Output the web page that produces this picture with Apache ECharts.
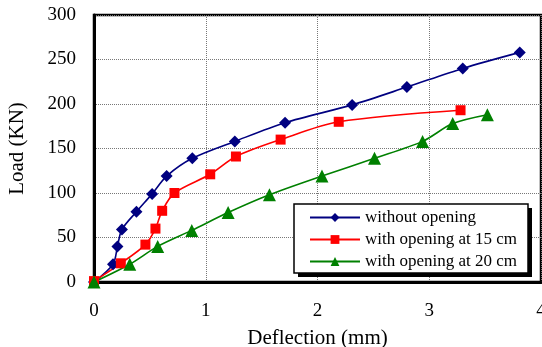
<!DOCTYPE html>
<html>
<head>
<meta charset="utf-8">
<script src="https://cdn.jsdelivr.net/npm/echarts@6/dist/echarts.min.js"></script>
<style>
  html, body { margin: 0; padding: 0; background: #fff; }
  #container { width: 542px; height: 347px; }
</style>
</head>
<body>
<div id="container"></div>
<script>
// values: [deflection mm, load kN]
let noOpening = [[0, 0], [0.17, 20], [0.21, 40], [0.25, 59], [0.38, 79], [0.52, 99], [0.65, 119],
    [0.88, 139], [1.26, 158], [1.71, 179], [2.31, 199], [2.80, 219], [3.30, 240], [3.81, 258]];
let opening15 = [[0, 1], [0.24, 21], [0.46, 42], [0.55, 60], [0.61, 80], [0.72, 100], [1.04, 121],
    [1.27, 141], [1.67, 160], [2.19, 180], [3.28, 193]];
let opening20 = [[0, 0], [0.32, 20], [0.57, 40], [0.875, 58], [1.20, 78], [1.57, 98], [2.04, 119],
    [2.51, 139], [2.94, 158], [3.21, 178], [3.52, 188]];
let seriesNames = ['without opening', 'with opening at 15 cm', 'with opening at 20 cm'];

let serif = '"Liberation Serif", "DejaVu Serif", serif';
let myChart = echarts.init(document.getElementById('container'));

function lineSeries(name, data, color, symbol, size) {
    return {
        name: name,
        type: 'line',
        data: data,
        smooth: 0.3,
        symbol: symbol,
        symbolSize: size,
        showAllSymbol: true,
        lineStyle: { color: color, width: 1.6 },
        itemStyle: { color: color },
        z: 3
    };
}

let option = {
    animation: false,
    grid: {
        left: 94, right: 1, top: 15, bottom: 65,
        outerBoundsMode: 'none',
        containLabel: false,
        show: true, borderColor: '#000', borderWidth: 2.5
    },
    xAxis: {
        type: 'value', min: 0, max: 4, interval: 1,
        name: 'Deflection (mm)', nameLocation: 'middle', nameGap: 46,
        nameTextStyle: { fontFamily: serif, fontSize: 21, color: '#000' },
        axisLine: { onZero: false, lineStyle: { color: '#000', width: 3 } },
        axisTick: { show: false },
        axisLabel: { fontFamily: serif, fontSize: 19, color: '#000', margin: 20 },
        splitLine: { lineStyle: { color: '#777', width: 1, type: [1, 1] } }
    },
    yAxis: {
        type: 'value', min: 0, max: 300, interval: 50,
        name: 'Load (KN)', nameLocation: 'middle', nameGap: 66,
        nameTextStyle: { fontFamily: serif, fontSize: 21, color: '#000' },
        axisLine: { lineStyle: { color: '#000', width: 3 } },
        axisTick: { show: false },
        axisLabel: { fontFamily: serif, fontSize: 19, color: '#000', margin: 18 },
        splitLine: { lineStyle: { color: '#777', width: 1, type: [1, 1] } }
    },
    legend: {
        orient: 'vertical',
        left: 309, top: 209,
        padding: 0,
        itemWidth: 50, itemHeight: 11, itemGap: 5,
        data: seriesNames,
        textStyle: { fontFamily: serif, fontSize: 17, color: '#000' },
        z: 10
    },
    graphic: [{
        type: 'rect', z: 8,
        shape: { x: 298, y: 208, width: 234, height: 69 },
        style: { fill: '#000' }
    }, {
        type: 'rect', z: 9,
        shape: { x: 294, y: 204, width: 234, height: 69 },
        style: { fill: '#fff', stroke: '#000', lineWidth: 1.5 }
    }],
    series: [
        lineSeries(seriesNames[0], noOpening, '#000080', 'diamond', 12),
        lineSeries(seriesNames[1], opening15, '#ff0000', 'rect', 10),
        lineSeries(seriesNames[2], opening20, '#008000', 'triangle', 13)
    ]
};
myChart.setOption(option);
</script>
</body>
</html>
